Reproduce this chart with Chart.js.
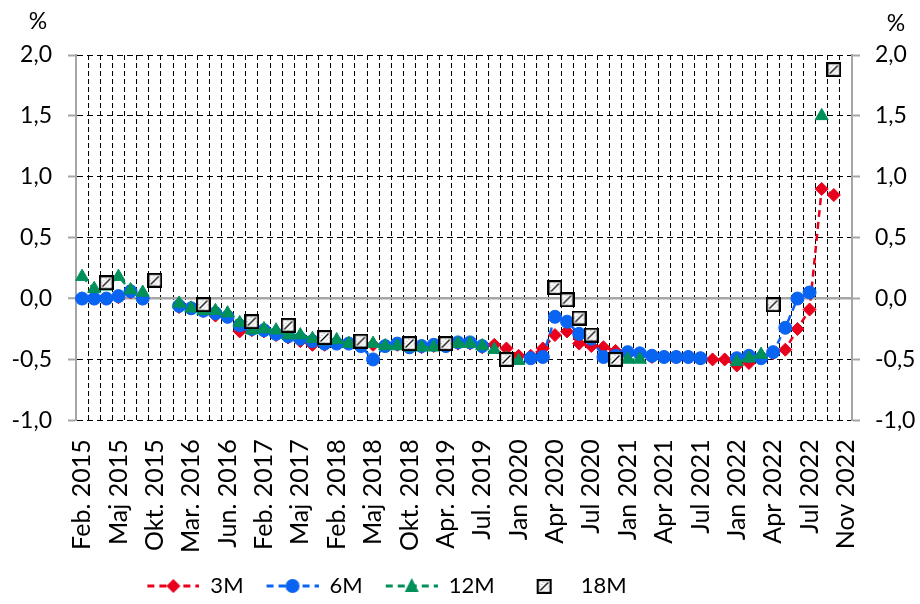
<!DOCTYPE html>
<html>
<head>
<meta charset="utf-8">
<script src="https://cdn.jsdelivr.net/npm/chart.js@4.4.0/dist/chart.umd.min.js"></script>
<style>
  html, body { margin: 0; padding: 0; background: #fff; }
</style>
</head>
<body>
<canvas id="chart" width="920" height="604"></canvas>
<script>
// labels shown under the axis, one every 3rd auction
const tickLabels = ['Feb. 2015', 'Maj 2015', 'Okt. 2015', 'Mar. 2016', 'Jun. 2016', 'Feb. 2017',
  'Maj 2017', 'Feb. 2018', 'Maj 2018', 'Okt. 2018', 'Apr. 2019', 'Jul. 2019', 'Jan 2020',
  'Apr 2020', 'Jul 2020', 'Jan 2021', 'Apr 2021', 'Jul 2021', 'Jan 2022', 'Apr 2022',
  'Jul 2022', 'Nov 2022'];

// yields in %, one value per auction (64 auctions), null = no auction
const r3M = [
  0.00, 0.00, 0.00, 0.01, 0.05, 0.00, null, null,
  -0.07, -0.08, -0.10, -0.14, -0.15, -0.27, -0.26, -0.27,
  -0.30, -0.32, -0.35, -0.38, -0.38, -0.37, -0.37, -0.38,
  -0.38, -0.39, -0.38, -0.40, -0.40, -0.39, -0.39, -0.37,
  -0.37, -0.40, -0.38, -0.41, -0.47, -0.47, -0.41, -0.30,
  -0.27, -0.37, -0.39, -0.40, -0.43, -0.46, -0.46, -0.48,
  -0.48, -0.48, -0.48, -0.49, -0.50, -0.50, -0.55, -0.53,
  -0.48, -0.45, -0.42, -0.25, -0.09, 0.90, 0.85, null
];
const r6M = [
  0.00, 0.00, 0.00, 0.02, 0.06, 0.00, null, null,
  -0.06, -0.08, -0.10, -0.12, -0.15, -0.22, -0.25, -0.26,
  -0.29, -0.31, -0.33, -0.35, -0.37, -0.37, -0.37, -0.39,
  -0.50, -0.39, -0.37, -0.40, -0.39, -0.38, -0.39, -0.36,
  -0.36, -0.39, null, null, null, -0.49, -0.48, -0.15,
  -0.19, -0.29, -0.33, -0.48, -0.47, -0.44, -0.45, -0.47,
  -0.48, -0.48, -0.48, -0.49, null, null, -0.49, -0.47,
  -0.49, -0.44, -0.24, 0.00, 0.05, null, null, null
];
const r12M = [
  0.18, 0.08, 0.10, 0.18, 0.07, 0.05, null, null,
  -0.04, -0.08, -0.10, -0.10, -0.12, -0.20, -0.26, -0.25,
  -0.26, -0.30, -0.30, -0.33, -0.35, -0.34, -0.37, -0.37,
  -0.37, -0.39, -0.39, -0.40, -0.40, -0.40, -0.38, -0.37,
  -0.37, -0.39, -0.42, -0.49, -0.51, null, null, null,
  null, null, null, null, null, -0.50, -0.50, null,
  null, null, null, null, null, null, -0.52, -0.49,
  -0.46, null, null, null, null, 1.50, null, null
];
const r18M = [
  null, null, 0.13, null, null, null, 0.15, null,
  null, null, -0.05, null, null, null, -0.19, null,
  null, -0.22, null, null, -0.32, null, null, -0.35,
  null, null, null, -0.37, null, null, -0.37, null,
  null, null, null, -0.50, null, null, null, 0.09,
  -0.01, -0.16, -0.30, null, -0.50, null, null, null,
  null, null, null, null, null, null, null, null,
  null, -0.05, null, null, null, null, 1.88, null
];

// one category per auction, text only every 3rd
const categories = r3M.map((v, i) => (i % 3 === 0 ? tickLabels[i / 3] : ''));

const RED = '#e8001c';
const BLUE = '#0a64f2';
const GREEN = '#00905a';
const GRAY = '#a6a6a6';
const FONT = { family: 'Lato', size: 23 };
const XFONT = { family: 'Lato', size: 25 };
const LFONT = { family: 'Lato', size: 22 };

// hatched square used for the 18M marker
function hatchBox() {
  const c = document.createElement('canvas');
  c.width = 15; c.height = 15;
  const g = c.getContext('2d');
  g.fillStyle = '#fff';
  g.fillRect(0, 0, 15, 15);
  g.strokeStyle = '#000';
  g.lineWidth = 1.2;
  g.beginPath(); g.moveTo(3.5, 11.5); g.lineTo(11.5, 3.5); g.stroke();
  g.strokeStyle = '#777';
  g.lineWidth = 1;
  g.setLineDash([1, 2]);
  g.beginPath(); g.moveTo(2.5, 8); g.lineTo(8, 2.5); g.stroke();
  g.beginPath(); g.moveTo(7, 12.5); g.lineTo(12.5, 7); g.stroke();
  g.setLineDash([]);
  g.strokeStyle = '#000';
  g.lineWidth = 2.2;
  g.strokeRect(1.1, 1.1, 12.8, 12.8);
  return c;
}
const boxImg = hatchBox();

// legend sample: dashed line with the marker in the middle (left margin = gap to previous item)
function legendIcon(color, marker) {
  const c = document.createElement('canvas');
  c.width = 64; c.height = 18;
  const g = c.getContext('2d');
  const cx = 38;
  if (marker === 'box') {
    g.drawImage(boxImg, cx - 7, 2);
    return c;
  }
  g.strokeStyle = color;
  g.fillStyle = color;
  g.lineWidth = 3;
  g.setLineDash([7, 5]);
  g.beginPath(); g.moveTo(12, 9); g.lineTo(64, 9); g.stroke();
  g.beginPath();
  if (marker === 'diamond') {
    g.moveTo(cx, 2); g.lineTo(cx + 7, 9); g.lineTo(cx, 16); g.lineTo(cx - 7, 9);
  } else if (marker === 'circle') {
    g.arc(cx, 9, 7, 0, Math.PI * 2);
  } else {
    g.moveTo(cx, 1); g.lineTo(cx + 7, 15); g.lineTo(cx - 7, 15);
  }
  g.closePath(); g.fill();
  return c;
}
const icons = [legendIcon(RED, 'diamond'), legendIcon(BLUE, 'circle'), legendIcon(GREEN, 'triangle'), legendIcon('#000', 'box')];

const fmt = v => v.toFixed(1).replace('.', ',');
const isZero = ctx => ctx.tick && Math.abs(ctx.tick.value) < 1e-9;

// "%" above both value axes
const percentSigns = {
  id: 'percentSigns',
  afterDraw(chart) {
    const g = chart.ctx;
    g.save();
    g.font = '23px Lato';
    g.fillStyle = '#000';
    g.textAlign = 'center';
    g.textBaseline = 'middle';
    g.fillText('%', 38, 22);
    g.fillText('%', 896, 24);
    g.restore();
  }
};

// legend sits left of centre and a bit lower in the original
const legendShift = {
  id: 'legendShift',
  afterLayout(chart) {
    const lg = chart.legend;
    const dx = 381 - (lg.left + lg.right) / 2;
    lg.left += dx;
    lg.right += dx;
    lg.top += 5;
    lg.bottom += 5;
  }
};

new Chart(document.getElementById('chart'), {
  type: 'line',
  data: {
    labels: categories,
    datasets: [
      { label: '3M', data: r3M, borderColor: RED, backgroundColor: RED, borderWidth: 2.5,
        borderDash: [7, 5], pointStyle: 'rectRot', pointRadius: 6.5, pointBorderWidth: 1, order: 4 },
      { label: '6M', data: r6M, borderColor: BLUE, backgroundColor: BLUE, borderWidth: 2.5,
        borderDash: [7, 5], pointStyle: 'circle', pointRadius: 6.5, pointBorderWidth: 1, order: 3 },
      { label: '12M', data: r12M, borderColor: GREEN, backgroundColor: GREEN, borderWidth: 2.5,
        borderDash: [7, 5], pointStyle: 'triangle', pointRadius: 7.5, pointBorderWidth: 1, order: 2 },
      { label: '18M', data: r18M, showLine: false, pointStyle: boxImg, order: 1 }
    ]
  },
  options: {
    responsive: false,
    animation: false,
    spanGaps: false,
    layout: { padding: { top: 55, left: 0, right: 0, bottom: 2 } },
    scales: {
      x: {
        type: 'category',
        offset: true,
        afterFit: s => { s.height -= 13; },
        grid: {
          offset: true,
          drawTicks: false,
          lineWidth: 1,
          color: ctx => (ctx.index === 0 || ctx.index === categories.length ? 'rgba(0,0,0,0)' : '#000')
        },
        border: { display: false, dash: [5, 3] },
        ticks: { autoSkip: false, maxRotation: 90, minRotation: 90, padding: 19, color: '#000', font: XFONT }
      },
      y: {
        position: 'left',
        min: -1,
        max: 2,
        afterFit: s => { s.width = 76; },
        ticks: { stepSize: 0.5, callback: fmt, padding: 16, color: '#000', font: FONT },
        grid: {
          color: ctx => (isZero(ctx) ? GRAY : '#000'),
          lineWidth: ctx => (isZero(ctx) ? 2.5 : 1),
          tickColor: GRAY,
          tickWidth: 2,
          tickLength: 8
        },
        border: { color: GRAY, width: 2, dash: ctx => (isZero(ctx) ? [] : [6, 4]) }
      },
      y2: {
        position: 'right',
        min: -1,
        max: 2,
        afterFit: s => { s.width = 68; },
        ticks: { stepSize: 0.5, callback: fmt, padding: 15, color: '#000', font: FONT },
        grid: { drawOnChartArea: false, tickColor: GRAY, tickWidth: 2, tickLength: 8 },
        border: { color: GRAY, width: 2 }
      }
    },
    plugins: {
      tooltip: { enabled: false },
      legend: {
        position: 'bottom',
        labels: {
          usePointStyle: true,
          pointStyleWidth: 64,
          boxHeight: 18,
          padding: 11,
          color: '#000',
          font: LFONT,
          generateLabels: chart => Chart.defaults.plugins.legend.labels.generateLabels(chart)
            .map(it => Object.assign(it, { pointStyle: icons[it.datasetIndex] })),
          sort: (a, b) => a.datasetIndex - b.datasetIndex
        }
      }
    }
  },
  plugins: [percentSigns, legendShift]
});
</script>
</body>
</html>
